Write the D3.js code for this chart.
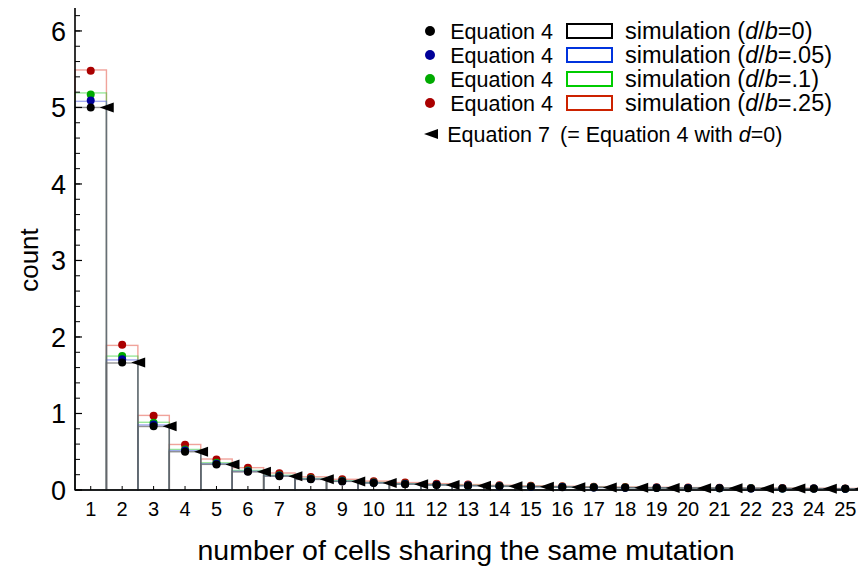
<!DOCTYPE html>
<html>
<head>
<meta charset="utf-8">
<script src="https://cdn.jsdelivr.net/npm/d3@7"></script>
<style>
  body { margin: 0; background: #fff; }
  svg { font-family: "Liberation Sans", Arial, sans-serif; }
</style>
</head>
<body>
<svg id="chart" width="858" height="572"></svg>
<script>
// cluster sizes 1..25
const sizes = d3.range(1, 26);

// Equation 4 predictions, one per d/b value
const eq4_0   = [5.00, 1.667, 0.833, 0.500, 0.333, 0.238, 0.179, 0.139, 0.111, 0.091, 0.076, 0.064, 0.055, 0.048, 0.042, 0.037, 0.033, 0.029, 0.026, 0.024, 0.022, 0.020, 0.018, 0.017, 0.015];
const eq4_05  = [5.09, 1.710, 0.855, 0.515, 0.344, 0.246, 0.185, 0.144, 0.115, 0.094, 0.079, 0.067, 0.058, 0.050, 0.044, 0.039, 0.034, 0.031, 0.028, 0.025, 0.023, 0.021, 0.019, 0.018, 0.016];
const eq4_1   = [5.17, 1.750, 0.880, 0.530, 0.355, 0.255, 0.192, 0.150, 0.120, 0.098, 0.082, 0.070, 0.060, 0.052, 0.046, 0.041, 0.036, 0.032, 0.029, 0.026, 0.024, 0.022, 0.020, 0.018, 0.017];
const eq4_25  = [5.48, 1.900, 0.970, 0.590, 0.400, 0.290, 0.220, 0.170, 0.140, 0.115, 0.097, 0.083, 0.071, 0.062, 0.055, 0.049, 0.044, 0.039, 0.035, 0.032, 0.029, 0.027, 0.025, 0.023, 0.021];
// Equation 7 (d = 0)
const eq7     = [5.00, 1.667, 0.833, 0.500, 0.333, 0.238, 0.179, 0.139, 0.111, 0.091, 0.076, 0.064, 0.055, 0.048, 0.042, 0.037, 0.033, 0.029, 0.026, 0.024, 0.022, 0.020, 0.018, 0.017, 0.015];

// simulated histograms
const sim_0   = [5.00, 1.660, 0.830, 0.500, 0.335, 0.236, 0.180, 0.138, 0.112, 0.090, 0.076, 0.064, 0.055, 0.047, 0.042, 0.037, 0.033, 0.029, 0.026, 0.024, 0.022, 0.020, 0.018, 0.017, 0.015];
const sim_05  = [5.08, 1.700, 0.850, 0.515, 0.342, 0.245, 0.184, 0.145, 0.114, 0.094, 0.078, 0.067, 0.057, 0.050, 0.044, 0.039, 0.034, 0.031, 0.028, 0.025, 0.023, 0.021, 0.019, 0.018, 0.016];
const sim_1   = [5.19, 1.750, 0.885, 0.530, 0.356, 0.256, 0.193, 0.150, 0.121, 0.098, 0.082, 0.070, 0.060, 0.052, 0.046, 0.041, 0.036, 0.032, 0.029, 0.026, 0.024, 0.022, 0.020, 0.018, 0.017];
const sim_25  = [5.49, 1.890, 0.975, 0.595, 0.405, 0.292, 0.222, 0.172, 0.140, 0.116, 0.097, 0.083, 0.071, 0.062, 0.055, 0.049, 0.044, 0.039, 0.035, 0.032, 0.029, 0.027, 0.025, 0.023, 0.021];

const yTicks = [0, 1, 2, 3, 4, 5, 6];

const svg = d3.select("#chart");

const x = d3.scaleLinear().domain([0.5, 25.5]).range([75, 861]);
const y = d3.scaleLinear().domain([0, 6.3]).range([490, 8]);

// histograms (drawn back to front)
const sims = [
    { vals: sim_25, color: "#dd3322", op: 0.45 },
    { vals: sim_1,  color: "#22cc22", op: 0.45 },
    { vals: sim_05, color: "#3344dd", op: 0.45 },
    { vals: sim_0,  color: "#666666", op: 0.7 }
];

sims.forEach(s => {
    svg.append("g").selectAll("rect")
        .data(sizes)
        .join("rect")
        .attr("x", d => x(d - 0.5))
        .attr("y", (d, i) => y(s.vals[i]))
        .attr("width", x(1.5) - x(0.5))
        .attr("height", (d, i) => y(0) - y(s.vals[i]))
        .attr("fill", "none")
        .attr("stroke", s.color)
        .attr("stroke-opacity", s.op)
        .attr("stroke-width", 1.4);
});

// axes
const yAxis = svg.append("g");
yAxis.append("line")
    .attr("x1", x(0.5)).attr("x2", x(0.5))
    .attr("y1", y(6.3)).attr("y2", y(0))
    .attr("stroke", "#000").attr("stroke-width", 1.6);
yAxis.selectAll(".minor")
    .data(d3.range(0, 6.3, 0.2))
    .join("line")
    .attr("x1", x(0.5)).attr("x2", x(0.5) + 5)
    .attr("y1", d => y(d)).attr("y2", d => y(d))
    .attr("stroke", "#000").attr("stroke-width", 1);
yAxis.selectAll(".major")
    .data(yTicks)
    .join("line")
    .attr("x1", x(0.5)).attr("x2", x(0.5) + 7)
    .attr("y1", d => y(d)).attr("y2", d => y(d))
    .attr("stroke", "#000").attr("stroke-width", 1.2);
yAxis.selectAll("text")
    .data(yTicks)
    .join("text")
    .attr("x", 66)
    .attr("y", d => y(d))
    .attr("dy", "0.36em")
    .attr("text-anchor", "end")
    .attr("font-size", 27)
    .text(d => d);

const xAxis = svg.append("g");
xAxis.append("line")
    .attr("x1", x(0.5)).attr("x2", 858)
    .attr("y1", y(0)).attr("y2", y(0))
    .attr("stroke", "#000").attr("stroke-width", 1.6);
xAxis.selectAll("line.tick")
    .data(sizes)
    .join("line")
    .attr("class", "tick")
    .attr("x1", d => x(d)).attr("x2", d => x(d))
    .attr("y1", y(0)).attr("y2", y(0) - 4)
    .attr("stroke", "#000").attr("stroke-width", 1);
xAxis.selectAll("text")
    .data(sizes)
    .join("text")
    .attr("x", d => x(d))
    .attr("y", 516)
    .attr("text-anchor", "middle")
    .attr("font-size", 20)
    .text(d => d);

svg.append("text")
    .attr("x", 466).attr("y", 560)
    .attr("text-anchor", "middle")
    .attr("font-size", 28.5)
    .text("number of cells sharing the same mutation");

svg.append("text")
    .attr("transform", "translate(29,260) rotate(-90)")
    .attr("text-anchor", "middle")
    .attr("dy", "0.35em")
    .attr("font-size", 26)
    .text("count");

// Equation 4 dots
const eqs = [
    { vals: eq4_25, color: "#aa0000" },
    { vals: eq4_1,  color: "#00aa00" },
    { vals: eq4_05, color: "#000099" },
    { vals: eq4_0,  color: "#000000" }
];
eqs.forEach(e => {
    svg.append("g").selectAll("circle")
        .data(sizes)
        .join("circle")
        .attr("cx", d => x(d))
        .attr("cy", (d, i) => y(e.vals[i]))
        .attr("r", 4)
        .attr("fill", e.color);
});

// Equation 7 triangles
const tri = (cx, cy) => `M${cx - 7},${cy}L${cx + 7},${cy - 5}L${cx + 7},${cy + 5}Z`;
svg.append("g").selectAll("path")
    .data(sizes)
    .join("path")
    .attr("d", (d, i) => tri(x(d) + 16, y(eq7[i])))
    .attr("fill", "#000");

// legend
const legendRows = [
    { dot: "#000000", box: "#000000", label: "0" },
    { dot: "#000099", box: "#0033dd", label: ".05" },
    { dot: "#00aa00", box: "#00cc00", label: ".1" },
    { dot: "#aa0000", box: "#cc2200", label: ".25" }
];
const legend = svg.append("g").attr("font-size", 21.5);
legendRows.forEach((r, i) => {
    const cy = 31 + i * 24;
    legend.append("circle").attr("cx", 430).attr("cy", cy).attr("r", 5).attr("fill", r.dot);
    legend.append("text").attr("x", 553).attr("y", cy).attr("dy", "0.36em")
        .attr("text-anchor", "end").text("Equation 4");
    legend.append("rect")
        .attr("x", 567).attr("y", cy - 7).attr("width", 45).attr("height", 14)
        .attr("fill", "none").attr("stroke", r.box).attr("stroke-width", 2);
    const t = legend.append("text").attr("x", 625).attr("y", cy).attr("dy", "0.36em")
        .attr("font-size", 23.5);
    t.append("tspan").text("simulation (");
    t.append("tspan").attr("font-style", "italic").text("d");
    t.append("tspan").text("/");
    t.append("tspan").attr("font-style", "italic").text("b");
    t.append("tspan").text("=" + r.label + ")");
});
const cy7 = 134;
legend.append("path").attr("d", tri(431, cy7)).attr("fill", "#000");
legend.append("text").attr("x", 550).attr("y", cy7).attr("dy", "0.36em")
    .attr("text-anchor", "end").text("Equation 7");
const t7 = legend.append("text").attr("x", 560).attr("y", cy7).attr("dy", "0.36em")
    .attr("font-size", 21.5);
t7.append("tspan").text("(= Equation 4 with ");
t7.append("tspan").attr("font-style", "italic").text("d");
t7.append("tspan").text("=0)");
</script>
</body>
</html>
